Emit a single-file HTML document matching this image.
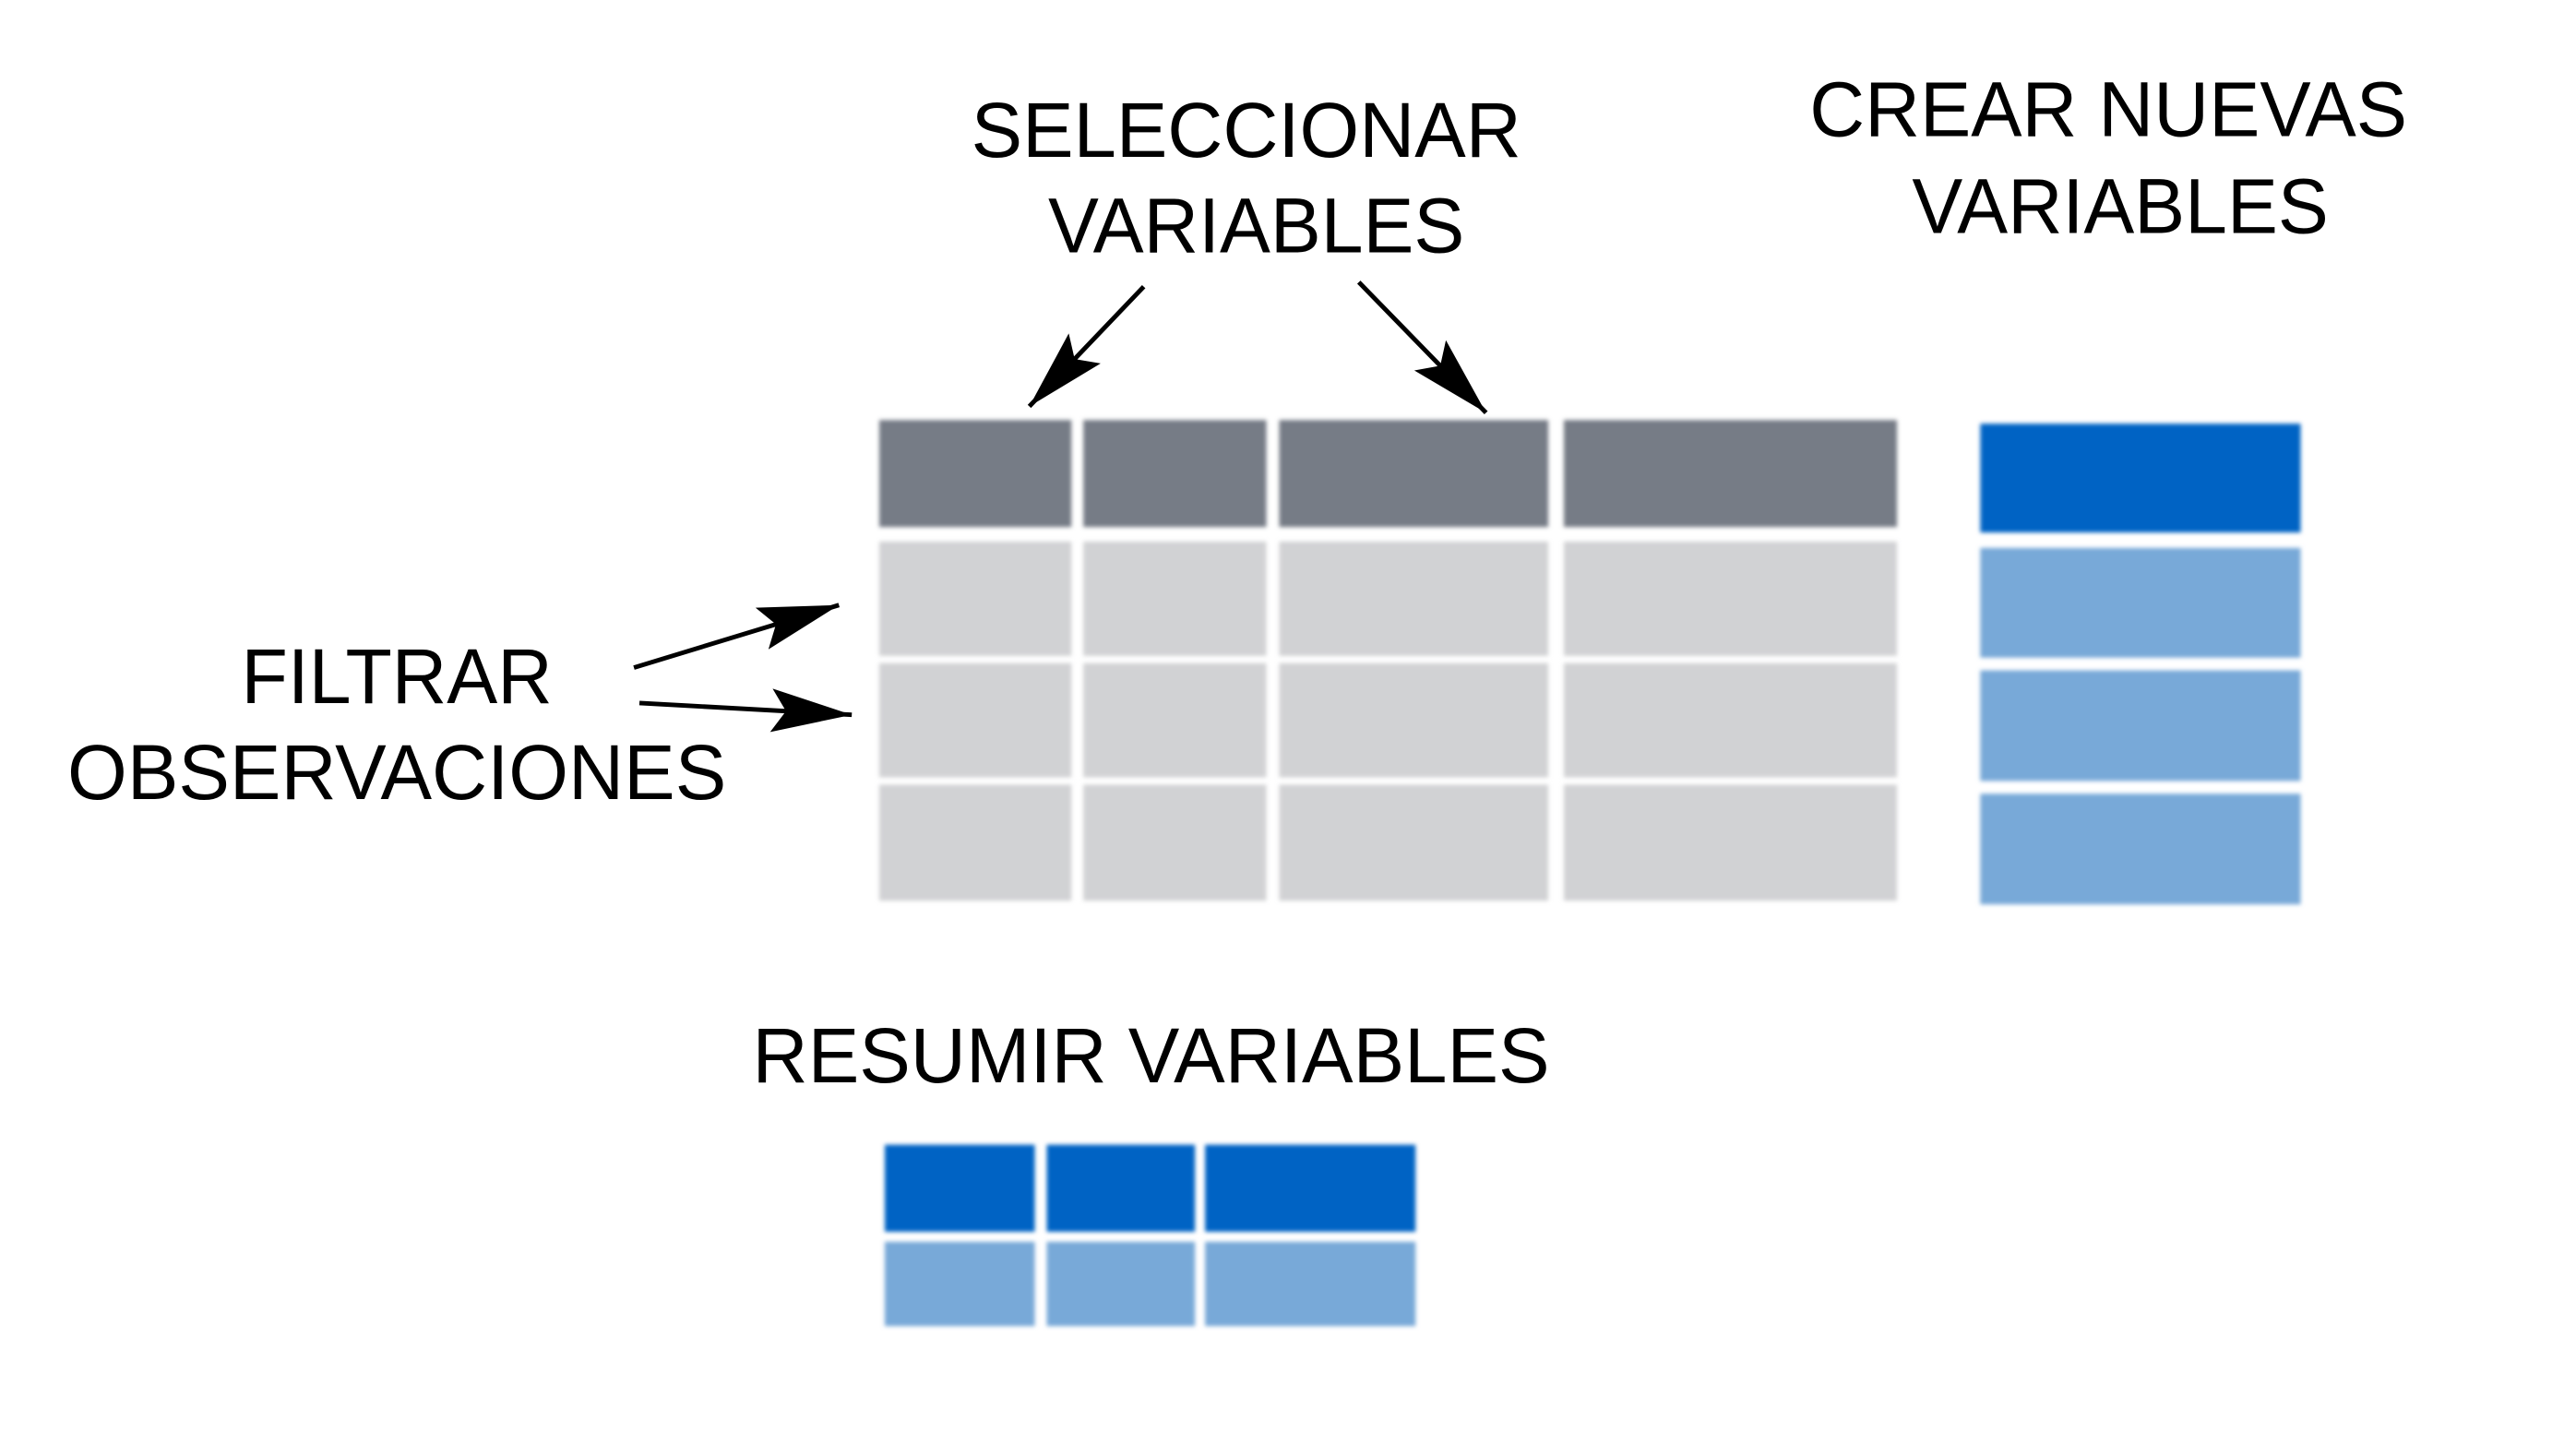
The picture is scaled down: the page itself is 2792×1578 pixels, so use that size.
<!DOCTYPE html>
<html><head><meta charset="utf-8"><style>
html,body{margin:0;padding:0;background:#fff;}
svg{display:block;}
text{font-family:"Liberation Sans",sans-serif;font-size:86px;fill:#000;}
</style></head><body>
<svg width="2792" height="1578" viewBox="0 0 2792 1578" xmlns="http://www.w3.org/2000/svg">
<defs>
<filter id="b" x="-5%" y="-5%" width="110%" height="110%"><feGaussianBlur stdDeviation="2.5"/></filter>
<marker id="ah" markerWidth="100" markerHeight="60" refX="88" refY="24" orient="auto" markerUnits="userSpaceOnUse">
<path d="M0,0 L88,24 L0,48 L16,24 Z" fill="#000"/>
</marker>
</defs>
<g transform="matrix(0.992,0,0,0.983,3.6,5)">
<g filter="url(#b)">
<g fill="#767c86">
<rect x="957" y="458" width="210" height="118"/>
<rect x="1180" y="458" width="200" height="118"/>
<rect x="1394" y="458" width="294" height="118"/>
<rect x="1705" y="458" width="364" height="118"/>
</g>
<g fill="#d1d2d4">
<rect x="957" y="592" width="210" height="126"/><rect x="1180" y="592" width="200" height="126"/><rect x="1394" y="592" width="294" height="126"/><rect x="1705" y="592" width="364" height="126"/>
<rect x="957" y="726" width="210" height="126"/><rect x="1180" y="726" width="200" height="126"/><rect x="1394" y="726" width="294" height="126"/><rect x="1705" y="726" width="364" height="126"/>
<rect x="957" y="860" width="210" height="128"/><rect x="1180" y="860" width="200" height="128"/><rect x="1394" y="860" width="294" height="128"/><rect x="1705" y="860" width="364" height="128"/>
</g>
<rect x="2160" y="462" width="350" height="120" fill="#0063c4"/>
<g fill="#78a9d8">
<rect x="2160" y="599" width="350" height="121"/>
<rect x="2160" y="734" width="350" height="122"/>
<rect x="2160" y="870" width="350" height="122"/>
</g>
<g fill="#0063c4">
<rect x="963" y="1257" width="164" height="96"/><rect x="1140" y="1257" width="162" height="96"/><rect x="1313" y="1257" width="230" height="96"/>
</g>
<g fill="#78a9d8">
<rect x="963" y="1364" width="164" height="93"/><rect x="1140" y="1364" width="162" height="93"/><rect x="1313" y="1364" width="230" height="93"/>
</g>
</g>
<g stroke="#000" stroke-width="5" fill="none" marker-end="url(#ah)">
<line x1="1246" y1="311" x2="1121" y2="443"/>
<line x1="1481" y1="306" x2="1620" y2="450"/>
<line x1="689" y1="731" x2="913" y2="662"/>
<line x1="695" y1="770" x2="927" y2="783"/>
</g>
<text x="1358" y="168" text-anchor="middle" textLength="601" lengthAdjust="spacingAndGlyphs">SELECCIONAR</text>
<text x="1369" y="273" text-anchor="middle" textLength="455" lengthAdjust="spacingAndGlyphs">VARIABLES</text>
<text x="2300" y="145" text-anchor="middle" textLength="653" lengthAdjust="spacingAndGlyphs">CREAR NUEVAS</text>
<text x="2313" y="252" text-anchor="middle" textLength="455" lengthAdjust="spacingAndGlyphs">VARIABLES</text>
<text x="430" y="770" text-anchor="middle" textLength="340" lengthAdjust="spacingAndGlyphs">FILTRAR</text>
<text x="430" y="876" text-anchor="middle" textLength="720" lengthAdjust="spacingAndGlyphs">OBSERVACIONES</text>
<text x="1254" y="1188" text-anchor="middle" textLength="871" lengthAdjust="spacingAndGlyphs">RESUMIR VARIABLES</text>
</g>
</svg>
</body></html>
